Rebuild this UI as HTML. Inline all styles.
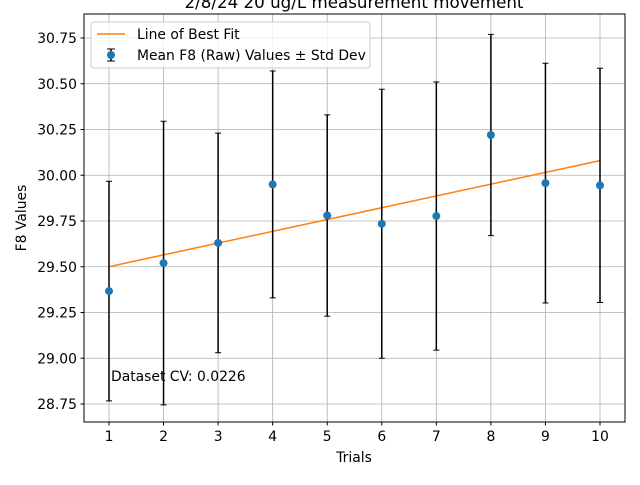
<!DOCTYPE html>
<html><head><meta charset="utf-8"><style>
body{margin:0;background:#fff}
svg{font-family:"DejaVu Sans","Liberation Sans",sans-serif}
</style></head><body>
<svg id="chart" width="640" height="480" xmlns="http://www.w3.org/2000/svg">
<rect width="640" height="480" fill="#fff"/>
<text x="354" y="8" text-anchor="middle" font-size="16.7">2/8/24 20 ug/L measurement movement</text>
<g id="grid"></g>
<g id="axes"></g>
<g id="marks"></g>
<rect x="84" y="14" width="541" height="408" fill="none" stroke="#000" stroke-width="1"/>
<text x="111" y="381" font-size="13.9">Dataset CV: 0.0226</text>
<text x="354" y="462" text-anchor="middle" font-size="13.9">Trials</text>
<text x="26" y="218" text-anchor="middle" font-size="13.9" transform="rotate(-90 26 218)">F8 Values</text>
<g>
<rect x="91" y="22" width="279" height="46" rx="3" fill="#fff" fill-opacity="0.8" stroke="#ccc"/>
<line x1="97" y1="34" x2="125" y2="34" stroke="#ff7f0e" stroke-width="1.5"/>
<text x="137" y="39" font-size="13.9">Line of Best Fit</text>
<line x1="111" y1="49" x2="111" y2="61" stroke="#000" stroke-width="1.5"/>
<line x1="107" y1="49" x2="115" y2="49" stroke="#000"/>
<line x1="107" y1="61" x2="115" y2="61" stroke="#000"/>
<circle cx="111" cy="55" r="4" fill="#1f77b4"/>
<text x="137" y="60" font-size="13.9">Mean F8 (Raw) Values ± Std Dev</text>
</g>
</svg>
<script>
const trials=[1,2,3,4,5,6,7,8,9,10];
const means=[29.367,29.52,29.63,29.95,29.78,29.735,29.777,30.22,29.957,29.945];
const stds=[0.60,0.775,0.60,0.62,0.55,0.735,0.733,0.55,0.655,0.64];
const fitSlope=[0.0644];
const fitIntercept=[29.436];
const yTicks=[28.75,29.00,29.25,29.50,29.75,30.00,30.25,30.50,30.75];
const xTicks=[1,2,3,4,5,6,7,8,9,10];
const NS="http://www.w3.org/2000/svg";
const X=v=>109+(v-1)*(600-109)/9;
const Y=v=>404-(v-28.75)*183;
function mk(t,a,p){const e=document.createElementNS(NS,t);for(const k in a)e.setAttribute(k,a[k]);p.appendChild(e);return e;}
const g=document.getElementById('grid'),ax=document.getElementById('axes'),m=document.getElementById('marks');
xTicks.forEach(t=>{const x=X(t);
 const l=mk('line',{x1:x,x2:x,y1:14,y2:422,stroke:'#b0b0b0','stroke-width':0.8},g);
 
 
 mk('line',{x1:x,x2:x,y1:422,y2:425.5,stroke:'#000'},ax);
 const tx=mk('text',{x:x,y:441,'text-anchor':'middle','font-size':13.9},ax);tx.textContent=t;
 
 });
yTicks.forEach(t=>{const y=Y(t);
 const l=mk('line',{x1:84,x2:625,y1:y,y2:y,stroke:'#b0b0b0','stroke-width':0.8},g);
 
 
 mk('line',{x1:80.5,x2:84,y1:y,y2:y,stroke:'#000'},ax);
 const tx=mk('text',{x:77,y:y+5,'text-anchor':'end','font-size':13.9},ax);tx.textContent=t.toFixed(2);
 
 });
const fx0=trials[0],fx1=trials[trials.length-1];
const fit=mk('line',{x1:X(fx0),y1:Y(fitIntercept[0]+fitSlope[0]*fx0),x2:X(fx1),y2:Y(fitIntercept[0]+fitSlope[0]*fx1),stroke:'#ff7f0e','stroke-width':1.5},m);


trials.forEach((t,i)=>{const x=X(t),top=Y(means[i]+stds[i]),bot=Y(means[i]-stds[i]);
 const eb=mk('g',{},m);
 
 
 mk('line',{x1:x,x2:x,y1:top,y2:bot,stroke:'#000','stroke-width':1.5},eb);
 mk('line',{x1:x-3,x2:x+3,y1:top,y2:top,stroke:'#000'},eb);
 mk('line',{x1:x-3,x2:x+3,y1:bot,y2:bot,stroke:'#000'},eb);
 const c=mk('circle',{cx:x,cy:Y(means[i]),r:4,fill:'#1f77b4'},m);
 
 });
</script>
</body></html>
